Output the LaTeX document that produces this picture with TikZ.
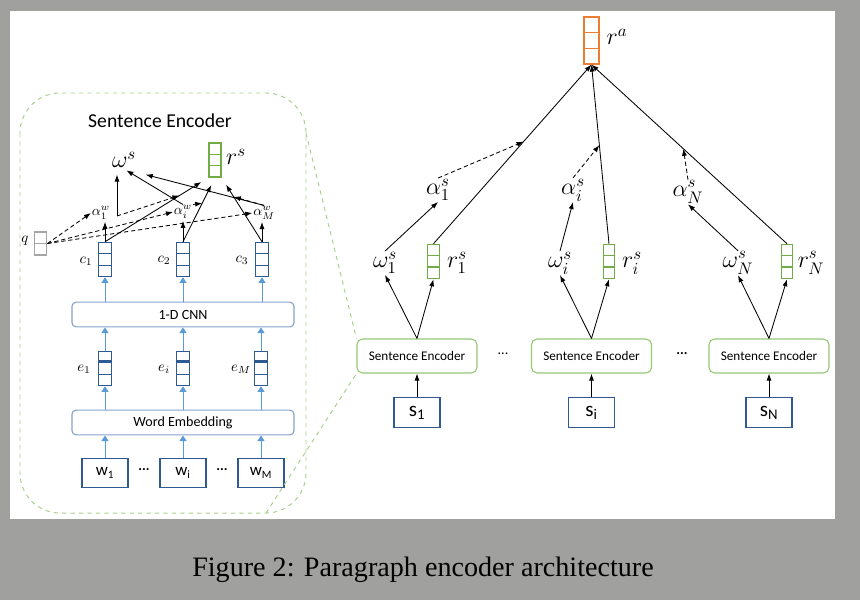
\RequirePackage{fix-cm}
\documentclass[tikz,border=0pt]{standalone}
\usepackage{amsmath}
\usepackage{fontspec}
\setmainfont{Carlito}
\newfontfamily\captionfont{Liberation Serif}
\usepackage{tikz}
\usetikzlibrary{shapes,arrows,arrows.meta,positioning,calc}
\definecolor{pagegray}{RGB}{160,161,158}
\definecolor{vecblue}{RGB}{46,89,145}
\definecolor{flowblue}{RGB}{91,155,213}
\definecolor{layerblue}{RGB}{135,163,205}
\definecolor{encgreen}{RGB}{150,200,120}
\definecolor{vecgreen}{RGB}{112,173,71}
\definecolor{framegreen}{RGB}{169,209,142}
\definecolor{outorange}{RGB}{237,125,49}
\definecolor{querygray}{RGB}{165,165,165}

\begin{document}
\begin{tikzpicture}[x=0.025cm, y=-0.025cm,
    vec/.style={draw, line width=0.8pt, inner sep=0pt, minimum width=0.32cm, minimum height=0.86cm},
    layer/.style={draw=layerblue, line width=0.8pt, rounded corners=3pt, minimum width=5.55cm, minimum height=0.62cm, font=\fontsize{10}{12}\selectfont},
    encoder/.style={draw=encgreen, line width=0.8pt, rounded corners=4pt, minimum width=3cm, minimum height=0.85cm, font=\fontsize{9.4}{11}\selectfont},
    token/.style={draw=vecblue, line width=0.8pt, minimum width=1.15cm, minimum height=0.74cm, font=\fontsize{12}{14}\selectfont},
    arr/.style={-{Latex[length=5pt,width=3.6pt]}, line width=0.6pt},
    att/.style={arr, dash pattern=on 3pt off 2pt},
    flow/.style={flowblue, line width=0.7pt, -{Triangle[length=4pt,width=5pt]}},
    bigmath/.style={font=\fontsize{17}{20}\selectfont, inner sep=0.5pt},
    smallmath/.style={font=\fontsize{10}{12}\selectfont, inner sep=0.5pt},
]
    % Page
    \useasboundingbox (0,0) rectangle (860,600);
    \fill[pagegray] (0,0) rectangle (860,600);
    \fill[white] (10,11) rectangle (835,519);

    % Sentence encoder, zoomed in
    \draw[framegreen, dashed, line width=0.7pt, rounded corners=1cm] (20,93) rectangle (306,513);
    \coordinate (frameNE) at (306,133);
    \coordinate (frameSE) at (266,513);
    \node[font=\fontsize{14}{17}\selectfont] (title) at (160,121) {Sentence Encoder};

    \node[token] (w1) at (105,473) {w\textsubscript{1}};
    \node[token] (wi) at (183,473) {w\textsubscript{i}};
    \node[token] (wM) at (261,473) {w\textsubscript{M}};
    \node[font=\fontsize{10}{12}\selectfont] (wdots1) at (144,470) {\textbf{...}};
    \node[font=\fontsize{10}{12}\selectfont] (wdots2) at (222,470) {\textbf{...}};

    \node[layer] (embed) at (183,422.5) {Word Embedding};
    \node[vec, draw=vecblue] (e1) at (105,368.5) {};
    \node[vec, draw=vecblue] (ei) at (183,368.5) {};
    \node[vec, draw=vecblue] (eM) at (261,368.5) {};
    \node[font=\fontsize{10.5}{12}\selectfont] (le1) at (84,369) {$e_1$};
    \node[font=\fontsize{10.5}{12}\selectfont] (lei) at (164,369) {$e_i$};
    \node[font=\fontsize{10.5}{12}\selectfont] (leM) at (241,369) {$e_M$};

    \node[layer] (cnn) at (183,314.5) {1-D CNN};
    \node[vec, draw=vecblue] (c1) at (105,259.5) {};
    \node[vec, draw=vecblue] (c2) at (183,259.5) {};
    \node[vec, draw=vecblue] (c3) at (262,259.5) {};
    \node[font=\fontsize{10.5}{12}\selectfont] (lc1) at (86,261) {$c_1$};
    \node[font=\fontsize{10.5}{12}\selectfont] (lc2) at (164,260) {$c_2$};
    \node[font=\fontsize{10.5}{12}\selectfont] (lc3) at (242,260) {$c_3$};

    \node[vec, draw=querygray, minimum height=0.575cm] (q) at (40.5,243.5) {};
    \node[font=\fontsize{10.5}{12}\selectfont] (lq) at (25,241) {$q$};
    \node[smallmath] (a1) at (101,213) {$\alpha_1^w$};
    \node[smallmath] (ai) at (183,212) {$\alpha_i^w$};
    \node[smallmath] (aM) at (264,213) {$\alpha_M^w$};
    \coordinate (a1x) at (117,216);

    \node[bigmath] (ws) at (124,160) {$\omega^s$};
    \node[vec, draw=vecgreen, minimum width=0.3cm, minimum height=0.85cm] (rs) at (215,160) {};
    \node[bigmath] (lrs) at (236,157) {$r^s$};

    % word level flow
    \foreach \w/\e/\c in {w1/e1/c1, wi/ei/c2, wM/eM/c3} {
        \draw[flow] (\w) -- (\w |- embed.south);
        \draw[flow] (embed.north -| \e) -- (\e);
        \draw[flow] (\e) -- (\e |- cnn.south);
        \draw[flow] (cnn.north -| \c) -- (\c);
    }
    \draw[arr, shorten >=1pt] (c1.north) -- (c1.north |- a1.south);
    \draw[arr, shorten >=1pt] (c2.north) -- (c2.north |- ai.south);
    \draw[arr, shorten >=1pt] (c3.north) -- (c3.north |- aM.south);
    \foreach \a in {a1,ai,aM}
        \draw[att] (q.east) -- (\a.west);

    % word attention
    \draw[arr, shorten >=4pt] (a1x) -- (a1x |- ws.south);
    \draw[arr, shorten >=2pt] (ai.north) -- (ws.south);
    \draw[arr, shorten >=2pt] (aM.north) -- ($(ws.south east)+(6,5)$);
    \draw[arr, shorten >=6pt] (c1.north) -- (rs.south west);
    \draw[arr, shorten >=6pt] (c2.north) -- (rs.south);
    \draw[arr, shorten >=6pt] (c3.north) -- (rs.south east);
    \draw[att] (a1x) -- ($(c1.north)!0.72!(rs.south west)$);
    \draw[att] (ai.north east) -- ($(c2.north)!0.6!(rs.south)$);
    \draw[att] (aM.north) -- ($(c3.north)!0.7!(rs.south east)$);

    % Paragraph encoder
    \node[vec, draw=outorange, minimum width=0.375cm, minimum height=1.175cm] (ra) at (591.5,40.5) {};
    \node[bigmath] (lra) at (617,37) {$r^a$};

    \node[encoder] (enc1) at (417,356) {Sentence Encoder};
    \node[encoder] (enci) at (591.5,356) {Sentence Encoder};
    \node[encoder] (encN) at (769,356) {Sentence Encoder};
    \node[font=\fontsize{10}{12}\selectfont] (edots1) at (503,354) {...};
    \node[font=\fontsize{10}{12}\selectfont] (edots2) at (682,354) {\textbf{...}};

    \node[token, font=\fontsize{15}{18}\selectfont] (s1) at (417,412.5) {s\textsubscript{1}};
    \node[token, font=\fontsize{15}{18}\selectfont] (si) at (591.5,412.5) {s\textsubscript{i}};
    \node[token, font=\fontsize{15}{18}\selectfont] (sN) at (769,412.5) {s\textsubscript{N}};

    \node[vec, draw=vecgreen, minimum width=0.29cm] (rs1) at (433.5,261.5) {};
    \node[vec, draw=vecgreen, minimum width=0.29cm] (rsi) at (609,261.5) {};
    \node[vec, draw=vecgreen, minimum width=0.29cm] (rsN) at (787,261.5) {};
    \node[bigmath] (lrs1) at (457,263) {$r_1^s$};
    \node[bigmath] (lrsi) at (632,263) {$r_i^s$};
    \node[bigmath] (lrsN) at (811,263) {$r_N^s$};
    \node[bigmath] (ws1) at (385,263) {$\omega_1^s$};
    \node[bigmath] (wsi) at (560,263) {$\omega_i^s$};
    \node[bigmath] (wsN) at (738,263) {$\omega_N^s$};
    \node[bigmath] (as1) at (438,190) {$\alpha_1^s$};
    \node[bigmath] (asi) at (573,190) {$\alpha_i^s$};
    \node[bigmath] (asN) at (688,192) {$\alpha_N^s$};

    % sentence level flow
    \foreach \s/\e/\w/\r/\a in {s1/enc1/ws1/rs1/as1, si/enci/wsi/rsi/asi, sN/encN/wsN/rsN/asN} {
        \draw[arr] (\s.north) -- (\e.south);
        \draw[arr] (\e.north) -- (\w.south);
        \draw[arr] (\e.north) -- (\r.south);
        \draw[arr] (\w.north) -- (\a.south);
        \draw[arr] (\r.north) -- (ra.south);
    }
    \draw[att] (as1.north) -- ($(rs1.north)!0.57!(ra.south)$);
    \draw[att] (asi.north) -- ($(rsi.north)!0.55!(ra.south)$);
    \draw[att] (asN.north) -- ($(rsN.north)!0.53!(ra.south)$);

    % cells of the vectors
    \foreach \v/\c in {c1/vecblue, c2/vecblue, c3/vecblue, e1/vecblue, ei/vecblue, eM/vecblue, rs/vecgreen, rs1/vecgreen, rsi/vecgreen, rsN/vecgreen, ra/outorange}
        \draw[\c, line width=0.6pt] ($(\v.north west)!1/3!(\v.south west)$) -- ($(\v.north east)!1/3!(\v.south east)$)
            ($(\v.north west)!2/3!(\v.south west)$) -- ($(\v.north east)!2/3!(\v.south east)$);
    \foreach \v in {e1,ei,eM}
        \draw[vecblue, line width=1.4pt] ($(\v.north west)!0.3!(\v.south west)$) -- ($(\v.north east)!0.3!(\v.south east)$);
    \foreach \v in {rs1,rsi,rsN}
        \draw[vecgreen, line width=1.4pt] ($(\v.north west)!2/3!(\v.south west)$) -- ($(\v.north east)!2/3!(\v.south east)$);
    \draw[querygray, line width=0.6pt] (q.west) -- (q.east);

    % link to the zoomed view
    \draw[framegreen, dashed, line width=0.7pt] (frameNE) -- (enc1.north west);
    \draw[framegreen, dashed, line width=0.7pt] (frameSE) -- (enc1.south west);

    % Caption
    \node[font=\captionfont\fontsize{20}{24}\selectfont] (caption) at (423,570) {Figure 2: Paragraph encoder architecture};
\end{tikzpicture}
\end{document}
